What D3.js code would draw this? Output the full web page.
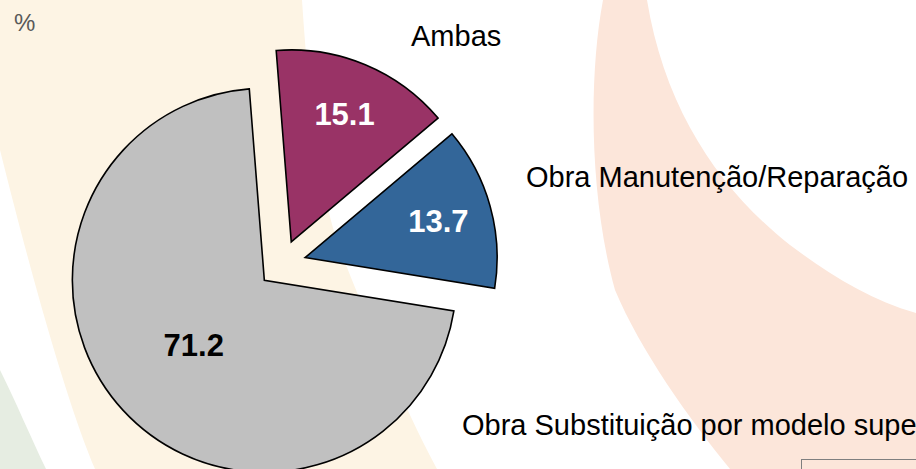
<!DOCTYPE html>
<html>
<head>
<meta charset="utf-8">
<script src="https://cdn.jsdelivr.net/npm/d3@7"></script>
<style>
    body { margin: 0; background: #ffffff; }
    #pie-chart { width: 916px; height: 469px; overflow: hidden; }
    .slice { stroke: #000000; stroke-width: 1.6px; stroke-linejoin: miter; }
    .value-label { font-family: "Liberation Sans", Arial, sans-serif; font-weight: bold; font-size: 31px; text-anchor: middle; }
    .cat-label { font-family: "Liberation Sans", Arial, sans-serif; font-size: 29px; fill: #000000; }
    .unit-label { font-family: "Liberation Sans", Arial, sans-serif; font-size: 24px; fill: #595959; }
</style>
</head>
<body>
<div id="pie-chart"></div>
<script>
// Chart data
const categories = ["Ambas", "Obra Manutenção/Reparação", "Obra Substituição por modelo superior"];
const values = [15.1, 13.7, 71.2];
const sliceColors = ["#993366", "#336699", "#c0c0c0"];
const unitLabel = "%";

/**
 * Constructor for the exploded pie chart
 */
function PieChart(){
    let self = this;

    self.init();
};

/**
 * Sets up the svg and the decorative background shapes
 */
PieChart.prototype.init = function(){
    let self = this;
    self.svgWidth = 916;
    self.svgHeight = 469;

    let divChart = d3.select("#pie-chart");

    self.svg = divChart.append("svg")
        .attr("width", self.svgWidth)
        .attr("height", self.svgHeight);

    //Background watermark bands (slide decoration)
    self.svg.append("path")
        .attr("d", "M0,370 C15,400 32,440 46,469 L0,469 Z")
        .style("fill", "#e6ede2");

    self.svg.append("path")
        .attr("d", "M0,0 L302,0 C310,120 320,190 340,250 C362,305 400,400 437,469 L95,469 C72,415 40,310 0,150 Z")
        .style("fill", "#fdf4e4");

    self.svg.append("path")
        .attr("d", "M603,0 L647,0 C665,110 720,190 790,245 C830,275 870,300 916,313 L916,469 L730,469 C690,420 640,350 615,290 C590,200 588,80 603,0 Z")
        .style("fill", "#fce6da");

    //Box at the bottom right corner
    self.svg.append("rect")
        .attr("x", 801.5)
        .attr("y", 459.5)
        .attr("width", 200)
        .attr("height", 60)
        .style("fill", "none")
        .style("stroke", "#7f7f7f")
        .style("stroke-width", 1);

    //Unit label
    self.svg.append("text")
        .attr("class", "unit-label")
        .attr("x", 14)
        .attr("y", 31)
        .text(unitLabel);

    self.chart = self.svg.append("g");
};

/**
 * Draws the exploded pie with value and category labels
 */
PieChart.prototype.update = function(){
    let self = this;

    const cx = 282, cy = 264;
    const radius = 192;
    const explode = 24;
    const startAngle = -4.5 * Math.PI / 180;

    let data = categories.map(function(c, i) {
        return {name: c, value: values[i], color: sliceColors[i]};
    });

    const pie = d3.pie()
        .sort(null)
        .startAngle(startAngle)
        .endAngle(startAngle + 2 * Math.PI)
        .value(function(d) { return d.value; });

    const arc = d3.arc()
        .innerRadius(0)
        .outerRadius(radius);

    let arcs = pie(data);

    // Offset of each slice along its mid angle
    const shift = function(d, dist) {
        let mid = (d.startAngle + d.endAngle) / 2;
        return [cx + dist * Math.sin(mid), cy - dist * Math.cos(mid)];
    };

    let slices = self.chart.selectAll(".slice-group")
        .data(arcs)
        .enter()
        .append("g")
        .attr("class", "slice-group")
        .attr("transform", function(d) {
            let p = shift(d, explode);
            return "translate(" + p[0] + "," + p[1] + ")";
        });

    slices.append("path")
        .attr("class", "slice")
        .attr("d", arc)
        .style("fill", function(d) { return d.data.color; });

    // Value labels inside slices (big slice gets its label closer to the centre)
    slices.append("text")
        .attr("class", "value-label")
        .attr("x", function(d) {
            let mid = (d.startAngle + d.endAngle) / 2;
            let r = d.data.value > 50 ? radius * 0.5 : radius * 0.72;
            return r * Math.sin(mid);
        })
        .attr("y", function(d) {
            let mid = (d.startAngle + d.endAngle) / 2;
            let r = d.data.value > 50 ? radius * 0.5 : radius * 0.72;
            return -r * Math.cos(mid) + 11;
        })
        .style("fill", function(d) {
            return d3.hsl(d.data.color).l < 0.5 ? "#ffffff" : "#000000";
        })
        .text(function(d) { return d.data.value.toFixed(1); });

    // Category labels, placed where the original chart put them
    const labelAnchors = [[411, 46], [526, 187], [462, 435]];

    self.svg.selectAll(".cat-label")
        .data(arcs)
        .enter()
        .append("text")
        .attr("class", "cat-label")
        .attr("x", function(d, i) { return labelAnchors[i][0]; })
        .attr("y", function(d, i) { return labelAnchors[i][1]; })
        .text(function(d) { return d.data.name; });
};

let pieChart = new PieChart();
pieChart.update();
</script>
</body>
</html>
